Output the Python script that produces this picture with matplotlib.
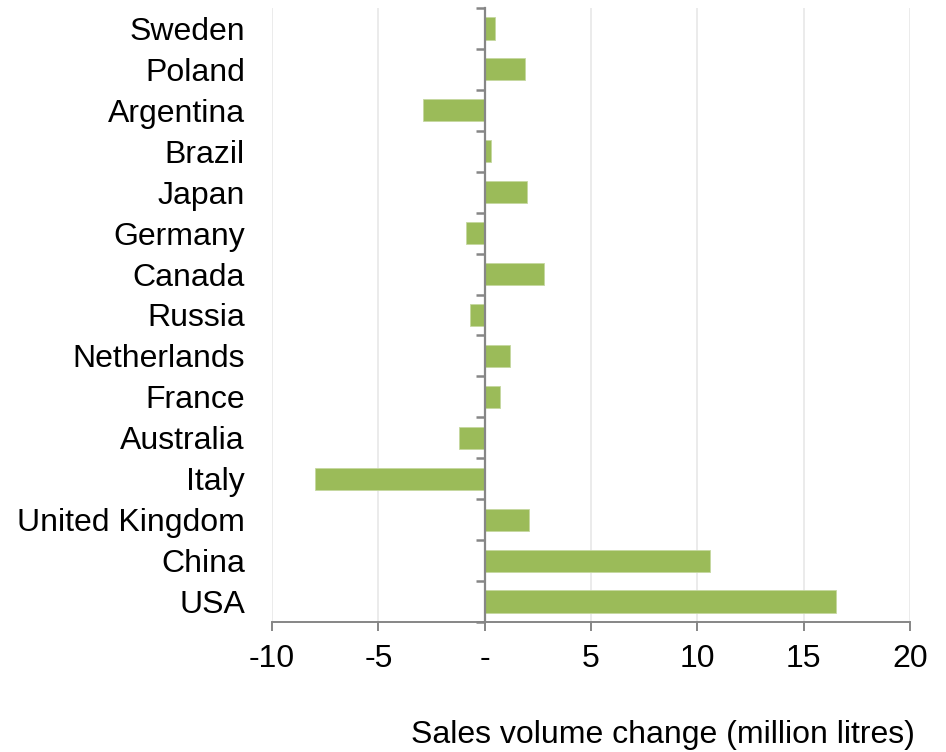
import numpy as np
import matplotlib.pyplot as plt

plt.rcParams['font.family'] = ['Liberation Sans', 'DejaVu Sans']

countries = ['Sweden', 'Poland', 'Argentina', 'Brazil', 'Japan', 'Germany', 'Canada',
             'Russia', 'Netherlands', 'France', 'Australia', 'Italy', 'United Kingdom',
             'China', 'USA']
change = [0.5, 1.9, -2.9, 0.3, 2.0, -0.9, 2.8, -0.7, 1.2, 0.7, -1.2, -8.0, 2.1, 10.6, 16.5]
x_ticks = [-10, -5, 0, 5, 10, 15, 20]
x_labels = ['-10', '-5', '-', '5', '10', '15', '20']

bar_col = '#9BBB59'
axis_col = '#868686'
fs = 23

fig = plt.figure(figsize=(9.46, 7.52), dpi=100)
ax = fig.add_axes([272/946, 1 - 622/752, (910-272)/946, (622-8)/752])

y = np.arange(len(countries))[::-1]
ax.barh(y, change, height=0.54, color=bar_col, edgecolor='#c5d8a0', linewidth=0.6, zorder=3)

ax.set_xlim(-10, 20)
ax.set_ylim(-0.5, len(countries) - 0.5)
ax.set_xticks(x_ticks)
ax.set_xticklabels(x_labels, fontsize=fs)
ax.set_yticks(y)
ax.set_yticklabels(countries, fontsize=fs)
ax.tick_params(axis='y', length=0, pad=19.5)
ax.tick_params(axis='x', length=6.5, width=1.4, color=axis_col, pad=9, direction='out')

ax.grid(axis='x', color='#e8e8e8', linewidth=1.2, zorder=0)
for s in ['top', 'right', 'left']:
    ax.spines[s].set_visible(False)
ax.spines['bottom'].set_color(axis_col)
ax.spines['bottom'].set_linewidth(1.4)

# category axis crossing at zero, drawn over the bars
sec = ax.secondary_yaxis(10 / 30)
sec.set_zorder(5)
sec.set_yticks(np.arange(-0.5, len(countries), 1.0))
sec.set_yticklabels([])
sec.tick_params(length=6.5, width=1.8, color=axis_col)
sec.spines['left'].set_color(axis_col)
sec.spines['left'].set_linewidth(1.6)

fig.text(915/946, 1 - 735/752, 'Sales volume change (million litres)', fontsize=fs,
         ha='right', va='center')

fig.savefig('out.png', dpi=100)
